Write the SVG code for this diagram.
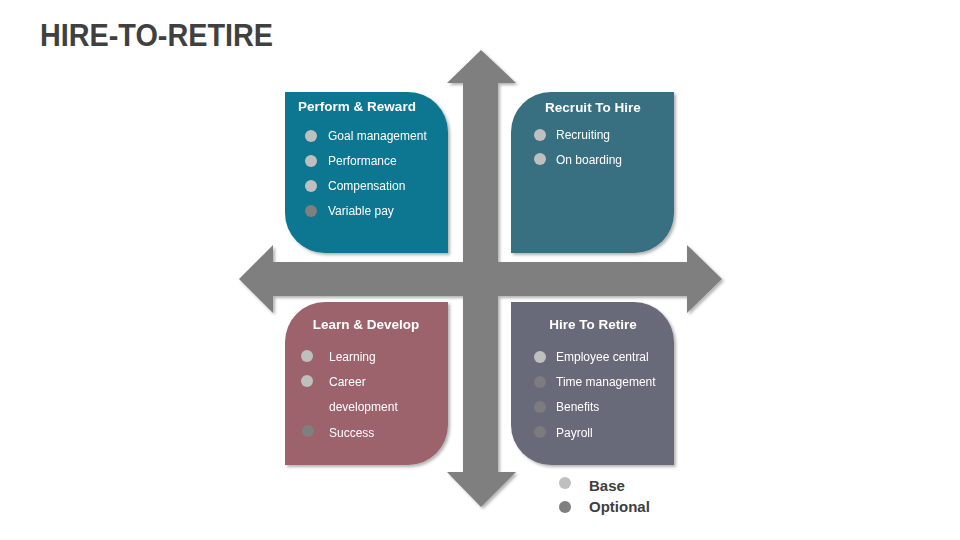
<svg xmlns="http://www.w3.org/2000/svg" width="960" height="540" viewBox="0 0 960 540">
<style>
.t{font-family:"Liberation Sans",Arial,sans-serif;font-weight:bold;fill:#fff;font-size:13.5px;text-anchor:middle}
.b{font-family:"Liberation Sans",Arial,sans-serif;fill:#fff;font-size:12px}
.base{fill:#BFBFBF}.opt{fill:#7F7F7F}
.lg{font-family:"Liberation Sans",Arial,sans-serif;font-weight:bold;fill:#404040;font-size:15px}
</style>
<defs><filter id="sh" x="-10%" y="-10%" width="130%" height="130%"><feDropShadow dx="2" dy="2" stdDeviation="1.5" flood-opacity="0.3"/></filter></defs>
<rect width="960" height="540" fill="#fff"/>
<text x="40" y="46" font-family="Liberation Sans,Arial,sans-serif" font-weight="bold" font-size="31" fill="#404040" textLength="233" lengthAdjust="spacingAndGlyphs">HIRE-TO-RETIRE</text>
<g id="connectors" fill="#7F7F7F" filter="url(#sh)">
<polygon points="239,279 273,245 273,262 687,262 687,245 722,279 687,313 687,296 273,296 273,313"/>
<polygon points="481,50 516,83 498,83 498,472 516,472 481,507 447,472 463,472 463,83 447,83"/>
</g>
<g id="perform" filter="url(#sh)">
<path d="M285,92 H408 A40,40 0 0 1 448,132 V253 H325 A40,40 0 0 1 285,213 Z" fill="#0B7690"/>
<text class="t" x="357" y="111">Perform &amp; Reward</text>
<circle class="base" cx="311" cy="136" r="6"/><text class="b" x="328" y="140">Goal management</text>
<circle class="base" cx="311" cy="161" r="6"/><text class="b" x="328" y="165">Performance</text>
<circle class="base" cx="311" cy="186" r="6"/><text class="b" x="328" y="190">Compensation</text>
<circle class="opt" cx="311" cy="211" r="6"/><text class="b" x="328" y="215">Variable pay</text>
</g>
<g id="recruit" filter="url(#sh)">
<path d="M551,92 H674 V213 A40,40 0 0 1 634,253 H511 V132 A40,40 0 0 1 551,92 Z" fill="#376F82"/>
<text class="t" x="593" y="112">Recruit To Hire</text>
<circle class="base" cx="540" cy="135" r="6"/><text class="b" x="556" y="139">Recruiting</text>
<circle class="base" cx="540" cy="159" r="6"/><text class="b" x="556" y="164">On boarding</text>
</g>
<g id="learn" filter="url(#sh)">
<path d="M325,302 H448 V425 A40,40 0 0 1 408,465 H285 V342 A40,40 0 0 1 325,302 Z" fill="#9C646C"/>
<text class="t" x="366" y="329">Learn &amp; Develop</text>
<circle class="base" cx="307" cy="356" r="6"/><text class="b" x="329" y="361">Learning</text>
<circle class="base" cx="307" cy="381" r="6"/><text class="b" x="329" y="386">Career</text>
<text class="b" x="329" y="411">development</text>
<circle class="opt" cx="308" cy="431" r="6"/><text class="b" x="329" y="437">Success</text>
</g>
<g id="hire" filter="url(#sh)">
<path d="M511,302 H634 A40,40 0 0 1 674,342 V465 H551 A40,40 0 0 1 511,425 Z" fill="#696A79"/>
<text class="t" x="593" y="329">Hire To Retire</text>
<circle class="base" cx="540" cy="357" r="6"/><text class="b" x="556" y="361">Employee central</text>
<circle class="opt" cx="540" cy="382" r="6" opacity="0.8"/><text class="b" x="556" y="386">Time management</text>
<circle class="opt" cx="540" cy="407" r="6" opacity="0.8"/><text class="b" x="556" y="411">Benefits</text>
<circle class="opt" cx="540" cy="432" r="6" opacity="0.8"/><text class="b" x="556" y="437">Payroll</text>
</g>
<g id="legend">
<circle class="base" cx="565" cy="483" r="6"/><text class="lg" x="589" y="491">Base</text>
<circle class="opt" cx="565" cy="507" r="6"/><text class="lg" x="589" y="512">Optional</text>
</g>
</svg>
